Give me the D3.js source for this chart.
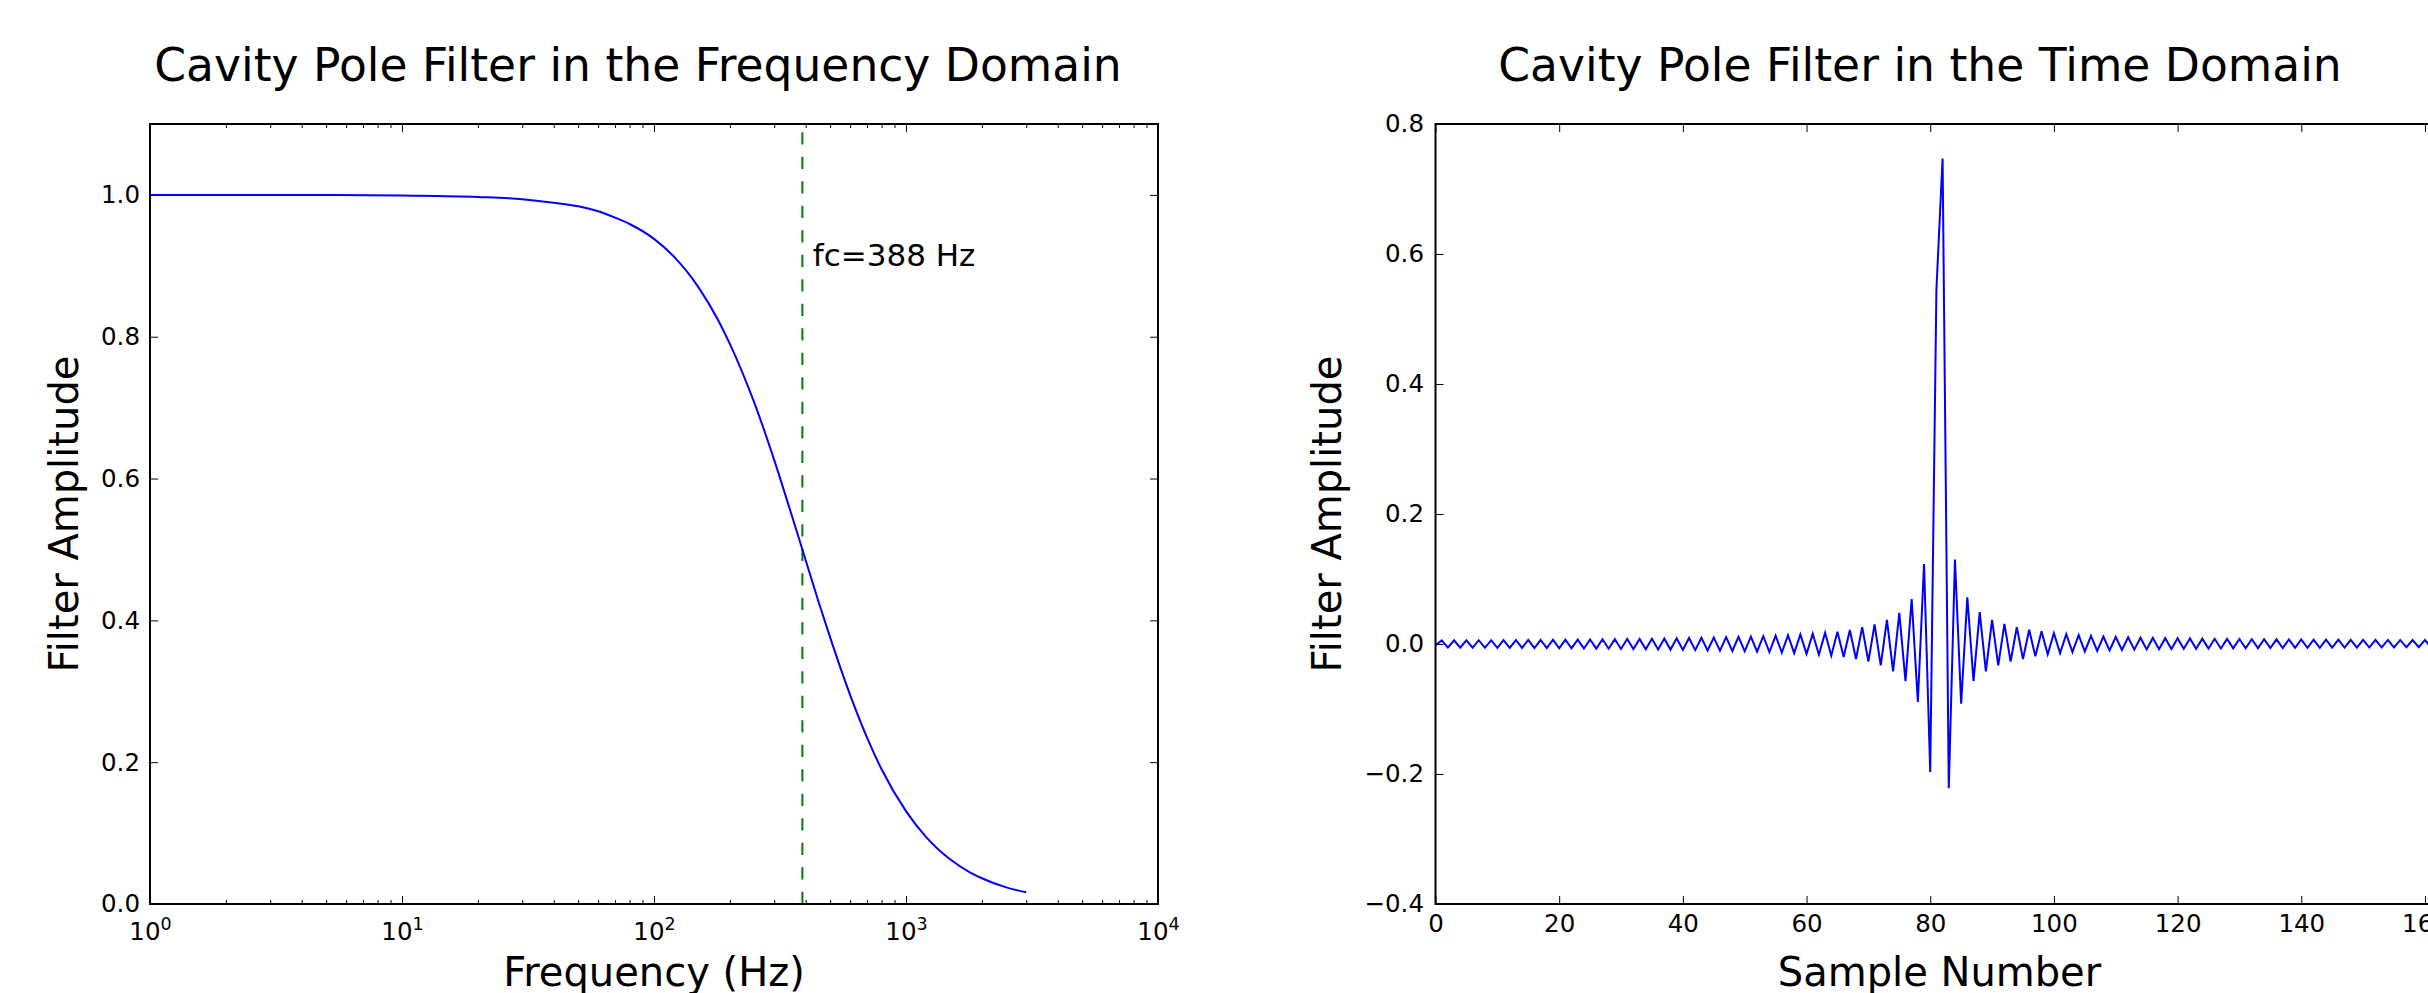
<!DOCTYPE html>
<html>
<head>
<meta charset="utf-8">
<script src="https://cdn.jsdelivr.net/npm/d3@7"></script>
<style>
  html, body { margin: 0; padding: 0; background: #ffffff; }
  svg { display: block; }
  text { font-family: "DejaVu Sans", sans-serif; fill: #000; }
</style>
</head>
<body>
<svg id="chart" width="2428" height="993"></svg>
<script>
// ---------------- DATA ----------------
const freqHz  = [1, 2, 5, 10, 20, 30, 40, 50, 60, 70, 80, 100, 120, 150, 180, 200, 250, 300, 350, 388,
                 450, 500, 600, 700, 800, 1000, 1200, 1500, 1800, 2000, 2500, 3000];
const freqAmp = [1.000, 1.000, 1.000, 0.999, 0.997, 0.994, 0.989, 0.984, 0.977, 0.968, 0.959, 0.938, 0.913,
                 0.870, 0.823, 0.790, 0.707, 0.626, 0.551, 0.500, 0.426, 0.376, 0.295, 0.235, 0.190, 0.131,
                 0.0947, 0.0627, 0.0444, 0.0363, 0.0235, 0.0165];
const cutoffHz = 388;
const cutoffLabel = "fc=388 Hz";

// time-domain filter taps, sample 0 .. 162
const timeAmp = [
  -0.002, 0.0055, -0.0055, 0.0056, -0.0056, 0.0057, -0.0057, 0.0058, -0.0058, 0.0058,
  -0.0059, 0.0059, -0.0060, 0.0060, -0.0061, 0.0062, -0.0062, 0.0063, -0.0064, 0.0065,
  -0.0066, 0.0067, -0.0067, 0.0068, -0.0069, 0.0070, -0.0071, 0.0072, -0.0073, 0.0074,
  -0.0076, 0.0077, -0.0078, 0.0079, -0.0080, 0.0082, -0.0083, 0.0085, -0.0086, 0.0088,
  -0.0090, 0.0092, -0.0094, 0.0096, -0.0098, 0.0100, -0.0103, 0.0105, -0.0107, 0.0110,
  -0.0112, 0.0115, -0.0118, 0.0121, -0.0124, 0.0128, -0.0132, 0.0136, -0.0140, 0.0146,
  -0.0152, 0.0158, -0.0165, 0.0172, -0.0180, 0.0190, -0.0200, 0.0215, -0.0230, 0.0260,
  -0.0270, 0.0300, -0.0330, 0.0370, -0.0420, 0.0480, -0.0570, 0.0690, -0.0890, 0.1230,
  -0.1970, 0.5450, 0.7470, -0.2220, 0.1300, -0.0920, 0.0720, -0.0570, 0.0490, -0.0420,
  0.0370, -0.0330, 0.0310, -0.0270, 0.0260, -0.0230, 0.0220, -0.0190, 0.0195, -0.0160,
  0.0165, -0.0140, 0.0150, -0.0125, 0.0135, -0.0115, 0.0125, -0.0105, 0.0115, -0.0098,
  0.0108, -0.0092, 0.0102, -0.0087, 0.0097, -0.0083, 0.0093, -0.0080, 0.0090, -0.0077,
  0.0087, -0.0075, 0.0084, -0.0073, 0.0082, -0.0071, 0.0080, -0.0069, 0.0078, -0.0067,
  0.0076, -0.0066, 0.0074, -0.0064, 0.0073, -0.0063, 0.0072, -0.0062, 0.0070, -0.0060,
  0.0069, -0.0059, 0.0068, -0.0058, 0.0067, -0.0057, 0.0066, -0.0056, 0.0065, -0.0055,
  0.0064, -0.0054, 0.0063, -0.0053, 0.0062, -0.0052, 0.0062, -0.0051, 0.0061, -0.0050,
  0.0060, -0.0050, 0.0060
];

// tick values and labels
const freqTicks = [1, 10, 100, 1000, 10000];
const freqTickExp = ["0", "1", "2", "3", "4"];
const freqAmpTicks = [0, 0.2, 0.4, 0.6, 0.8, 1.0];
const freqAmpTickLabels = ["0.0", "0.2", "0.4", "0.6", "0.8", "1.0"];
const sampleTicks = [0, 20, 40, 60, 80, 100, 120, 140, 160];
const sampleTickLabels = ["0", "20", "40", "60", "80", "100", "120", "140", "160"];
const timeAmpTicks = [-0.4, -0.2, 0, 0.2, 0.4, 0.6, 0.8];
const timeAmpTickLabels = ["\u22120.4", "\u22120.2", "0.0", "0.2", "0.4", "0.6", "0.8"];

const titles = ["Cavity Pole Filter in the Frequency Domain", "Cavity Pole Filter in the Time Domain"];
const xLabels = ["Frequency (Hz)", "Sample Number"];
const yLabel = "Filter Amplitude";

// ---------------- LAYOUT ----------------
const svg = d3.select("#chart");
const TICK_FS = 24.5;
const TITLE_FS = 45.6;
const MAJOR = 8, MINOR = 4;

const L = { x0: 150, x1: 1158, y0: 124, y1: 904 };
const R = { x0: 1435.5, x1: 2443.5, y0: 124, y1: 904 };

const xF = d3.scaleLog().domain([1, 10000]).range([L.x0, L.x1]);
const yF = d3.scaleLinear().domain([0, 1.1]).range([L.y1, L.y0]);
const xT = d3.scaleLinear().domain([0, 163]).range([R.x0, R.x1]);
const yT = d3.scaleLinear().domain([-0.4, 0.8]).range([R.y1, R.y0]);

function styleAxis(g) {
  g.attr("font-family", null).attr("font-size", null);
  g.select(".domain").remove();
  g.selectAll(".tick line").attr("stroke", "#000").attr("stroke-width", 1);
  g.selectAll(".tick text").attr("font-size", TICK_FS).attr("fill", "#000");
}

// ---------- Left panel ----------
const gl = svg.append("g");

// minor ticks (log)
const minorF = [];
for (let dec = 1; dec < 10000; dec *= 10) for (let m = 2; m <= 9; m++) minorF.push(dec * m);

gl.append("g").attr("transform", `translate(0,${L.y1})`)
  .call(d3.axisBottom(xF).tickValues(minorF).tickSizeInner(-MINOR).tickSizeOuter(0).tickFormat(""))
  .call(styleAxis);
gl.append("g").attr("transform", `translate(0,${L.y0})`)
  .call(d3.axisTop(xF).tickValues(minorF).tickSizeInner(-MINOR).tickSizeOuter(0).tickFormat(""))
  .call(styleAxis);

// major x ticks with 10^n labels
const gxb = gl.append("g").attr("transform", `translate(0,${L.y1})`)
  .call(d3.axisBottom(xF).tickValues(freqTicks).tickSizeInner(-MAJOR).tickSizeOuter(0).tickPadding(18.5).tickFormat(() => ""))
  .call(styleAxis);
gxb.selectAll(".tick text").each(function(d, i) {
  const t = d3.select(this);
  t.text(null);
  t.append("tspan").text("10");
  t.append("tspan").attr("dy", -10).attr("font-size", 17.5).text(freqTickExp[i]);
});
gl.append("g").attr("transform", `translate(0,${L.y0})`)
  .call(d3.axisTop(xF).tickValues(freqTicks).tickSizeInner(-MAJOR).tickSizeOuter(0).tickFormat(""))
  .call(styleAxis);

// y ticks
gl.append("g").attr("transform", `translate(${L.x0},0)`)
  .call(d3.axisLeft(yF).tickValues(freqAmpTicks).tickSizeInner(-MAJOR).tickSizeOuter(0).tickPadding(10)
    .tickFormat((d, i) => freqAmpTickLabels[i]))
  .call(styleAxis);
gl.append("g").attr("transform", `translate(${L.x1},0)`)
  .call(d3.axisRight(yF).tickValues(freqAmpTicks).tickSizeInner(-MAJOR).tickSizeOuter(0).tickFormat(""))
  .call(styleAxis);

// cutoff line
gl.append("line")
  .attr("x1", xF(cutoffHz)).attr("x2", xF(cutoffHz))
  .attr("y1", yF(0)).attr("y2", yF(1.1))
  .attr("stroke", "#008000").attr("stroke-width", 2).attr("stroke-dasharray", "12.25,12.25");

// curve
gl.append("path")
  .datum(freqHz.map((f, i) => [f, freqAmp[i]]))
  .attr("fill", "none").attr("stroke", "#0000ff").attr("stroke-width", 2)
  .attr("d", d3.line().x(d => xF(d[0])).y(d => yF(d[1])).curve(d3.curveMonotoneX));

// annotation
gl.append("text").attr("x", xF(cutoffHz * 1.1)).attr("y", yF(0.9))
  .attr("font-size", 31).text(cutoffLabel);

// frame
gl.append("rect").attr("x", L.x0).attr("y", L.y0).attr("width", L.x1 - L.x0).attr("height", L.y1 - L.y0)
  .attr("fill", "none").attr("stroke", "#000").attr("stroke-width", 2);

// texts
gl.append("text").attr("x", 638).attr("y", 81).attr("text-anchor", "middle").attr("font-size", TITLE_FS).text(titles[0]);
gl.append("text").attr("x", (L.x0 + L.x1) / 2).attr("y", 986).attr("text-anchor", "middle").attr("font-size", 40).text(xLabels[0]);
gl.append("text").attr("transform", `translate(77.5,${(L.y0 + L.y1) / 2}) rotate(-90)`)
  .attr("text-anchor", "middle").attr("font-size", 40).text(yLabel);

// ---------- Right panel ----------
const gr = svg.append("g");

gr.append("g").attr("transform", `translate(0,${R.y1})`)
  .call(d3.axisBottom(xT).tickValues(sampleTicks).tickSizeInner(-MAJOR).tickSizeOuter(0).tickPadding(11)
    .tickFormat((d, i) => sampleTickLabels[i]))
  .call(styleAxis);
gr.append("g").attr("transform", `translate(0,${R.y0})`)
  .call(d3.axisTop(xT).tickValues(sampleTicks).tickSizeInner(-MAJOR).tickSizeOuter(0).tickFormat(""))
  .call(styleAxis);
gr.append("g").attr("transform", `translate(${R.x0},0)`)
  .call(d3.axisLeft(yT).tickValues(timeAmpTicks).tickSizeInner(-MAJOR).tickSizeOuter(0).tickPadding(11.5)
    .tickFormat((d, i) => timeAmpTickLabels[i]))
  .call(styleAxis);
gr.append("g").attr("transform", `translate(${R.x1},0)`)
  .call(d3.axisRight(yT).tickValues(timeAmpTicks).tickSizeInner(-MAJOR).tickSizeOuter(0).tickFormat(""))
  .call(styleAxis);

gr.append("path")
  .datum(timeAmp)
  .attr("fill", "none").attr("stroke", "#0000ff").attr("stroke-width", 2).attr("stroke-linejoin", "miter")
  .attr("d", d3.line().x((d, i) => xT(i)).y(d => yT(d)));

gr.append("rect").attr("x", R.x0).attr("y", R.y0).attr("width", R.x1 - R.x0).attr("height", R.y1 - R.y0)
  .attr("fill", "none").attr("stroke", "#000").attr("stroke-width", 2);

gr.append("text").attr("x", 1920).attr("y", 81).attr("text-anchor", "middle").attr("font-size", TITLE_FS).text(titles[1]);
gr.append("text").attr("x", (R.x0 + R.x1) / 2).attr("y", 986).attr("text-anchor", "middle").attr("font-size", 40).text(xLabels[1]);
gr.append("text").attr("transform", `translate(1341,${(R.y0 + R.y1) / 2}) rotate(-90)`)
  .attr("text-anchor", "middle").attr("font-size", 40).text(yLabel);
</script>
</body>
</html>
